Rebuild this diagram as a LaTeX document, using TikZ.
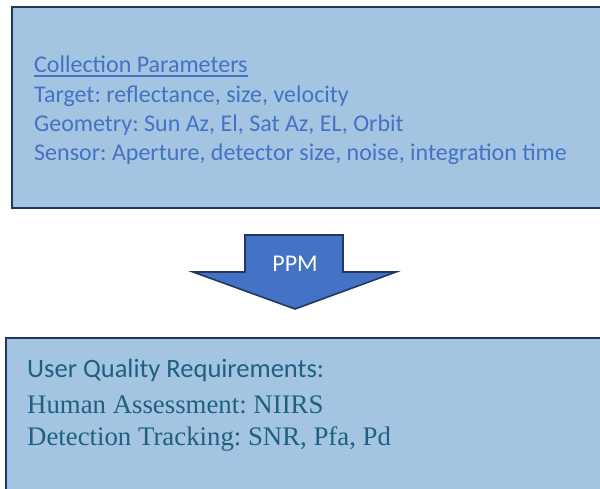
\documentclass[tikz,border=0pt]{standalone}
\usepackage{fontspec}
\setmainfont{Carlito}
\newfontfamily\serifface{Liberation Serif}
\frenchspacing
\definecolor{boxfill}{HTML}{A3C5E1}
\definecolor{boxline}{HTML}{1F3864}
\definecolor{accent}{HTML}{4472C4}
\definecolor{tealtext}{HTML}{1F6082}
\begin{document}
\begin{tikzpicture}[x=1pt,y=-1pt,
  panel/.style={fill=boxfill,draw=boxline,line width=2.4pt},
  toptext/.style={anchor=base west,inner sep=0pt,text=accent,font=\fontsize{24}{28}\selectfont},
  bottext/.style={anchor=base west,inner sep=0pt,text=tealtext,font=\fontsize{26.5}{30}\selectfont},
  serftext/.style={anchor=base west,inner sep=0pt,text=tealtext,font=\serifface\fontsize{26.8}{30}\selectfont}]
\useasboundingbox (0,0) rectangle (600,489);
\begin{scope}
\clip (0,0) rectangle (600,489);
% upper panel: collection parameters
\draw[panel] (12,7) rectangle (612,208);
% lower panel: user quality requirements
\draw[panel] (6,338) rectangle (612,500);
% block arrow between the panels
\draw[fill=accent,draw=boxline,line width=1.6pt,line join=miter]
  (245,235) -- (343,235) -- (343,272) -- (396,272) -- (295,309)
  -- (193,272) -- (245,272) -- cycle;
\end{scope}
\node[toptext] (cp) at (34,73) {Collection Parameters};
\draw[accent,line width=1.1pt] ([yshift=-3pt]cp.base west) -- ([yshift=-3pt]cp.base east);
\node[toptext] (tg) at (34,103) {Target: reflectance, size, velocity};
\node[toptext] (ge) at (34,132) {Geometry: Sun Az, El, Sat Az, EL, Orbit};
\node[toptext] (se) at (34,161) {Sensor: Aperture, detector size, noise, integration time};
\node[anchor=base,inner sep=0pt,text=white,font=\fontsize{24}{28}\selectfont] (ppm) at (295,272) {PPM};
\node[bottext] (uq) at (27,377) {User Quality Requirements:};
\node[serftext] (ha) at (27,413) {Human Assessment: NIIRS};
\node[serftext] (dt) at (27,445) {Detection Tracking: SNR, Pfa, Pd};
\end{tikzpicture}
\end{document}
